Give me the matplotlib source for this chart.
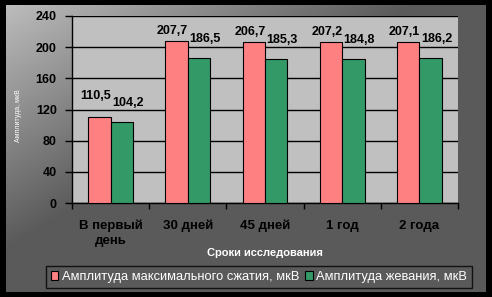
import matplotlib.pyplot as plt
from matplotlib.patches import Patch
import numpy as np

# data
categories = ["В первый\nдень", "30 дней", "45 дней", "1 год", "2 года"]
max_compression = [110.5, 207.7, 206.7, 207.2, 207.1]
chewing = [104.2, 186.5, 185.3, 184.8, 186.2]
series_names = ["Амплитуда максимального сжатия, мкВ", "Амплитуда жевания, мкВ"]
y_ticks = [0, 40, 80, 120, 160, 200, 240]

W, H = 492, 297
plt.rcParams["font.family"] = ["Liberation Sans", "DejaVu Sans"]

fig = plt.figure(figsize=(W / 100, H / 100), dpi=100, facecolor="black")

# gradient backdrop inside the black border
bg = fig.add_axes([6 / W, 5 / H, 479 / W, 287 / H])
gx, gy = np.meshgrid(np.linspace(0, 1, 240), np.linspace(0, 1, 150))
s = np.clip((gx + gy) / 0.85, 0, 1)
shade = (0xbc + (0x5a - 0xbc) * s) / 255.0
bg.imshow(np.dstack([shade, shade, shade]), aspect="auto", extent=(0, 1, 1, 0))
bg.set_axis_off()

ax = fig.add_axes([72 / W, (H - 203) / H, 386 / W, 187 / H])
ax.set_facecolor("#c0c0c0")

x = np.arange(len(categories))
bw = 0.29
pink = ax.bar(x - bw / 2, max_compression, bw, color="#ff8080", edgecolor="black", linewidth=0.8, zorder=3)
green = ax.bar(x + bw / 2, chewing, bw, color="#339966", edgecolor="black", linewidth=0.8, zorder=3)

for i, (rect, v) in enumerate(zip(pink, max_compression)):
    dy = 15 if i == 0 else 4  # first label sits higher in the original
    ax.annotate(f"{v:.1f}".replace(".", ","), (rect.get_x() + rect.get_width() / 2, v),
                xytext=(-4, dy), textcoords="offset pixels", ha="center", va="bottom",
                fontsize=9, fontweight="bold", color="black", zorder=4)
for rect, v in zip(green, chewing):
    ax.annotate(f"{v:.1f}".replace(".", ","), (rect.get_x() + rect.get_width() / 2, v),
                xytext=(6, 13), textcoords="offset pixels", ha="center", va="bottom",
                fontsize=9, fontweight="bold", color="black", zorder=4)

ax.set_xlim(-0.5, len(categories) - 0.5)
ax.set_ylim(0, 240)
ax.set_yticks(y_ticks)
ax.set_yticklabels([str(t) for t in y_ticks], fontsize=9, fontweight="bold")
ax.yaxis.grid(True, color="black", linewidth=1, zorder=1)
ax.set_axisbelow(True)

ax.set_xticks(x)
ax.set_xticklabels(categories, fontsize=9.5, fontweight="bold", linespacing=1.3)
ax.set_xticks(np.arange(len(categories) + 1) - 0.5, minor=True)
ax.tick_params(axis="x", which="major", length=0, pad=12)
ax.tick_params(axis="x", which="minor", length=4, width=1, direction="out")
ax.tick_params(axis="y", length=5, width=1, direction="out", pad=6)

for side in ("top", "right"):
    ax.spines[side].set_visible(False)
for side in ("left", "bottom"):
    ax.spines[side].set_color("black")
    ax.spines[side].set_linewidth(1)

ax.set_xlabel("Сроки исследования", fontsize=8, fontweight="bold", color="white", labelpad=1)
fig.text(18 / W, (H - 116) / H, "Амплитуда, мкВ", rotation=90, fontsize=5,
         color="white", ha="center", va="center")

handles = [Patch(facecolor="#ff8080", edgecolor="black", linewidth=0.8),
           Patch(facecolor="#339966", edgecolor="black", linewidth=0.8)]
leg = fig.legend(handles, series_names, loc="center", ncol=2,
                 bbox_to_anchor=(259 / W, (H - 277) / H),
                 fontsize=9.3, frameon=True, fancybox=False, edgecolor="black",
                 facecolor="none", handlelength=0.6, handleheight=0.6,
                 handletextpad=0.25, columnspacing=0.5, borderpad=0.35,
                 borderaxespad=0)
leg.get_frame().set_linewidth(1)
for t in leg.get_texts():
    t.set_color("white")

fig.savefig("out.png", dpi=100, facecolor=fig.get_facecolor())
